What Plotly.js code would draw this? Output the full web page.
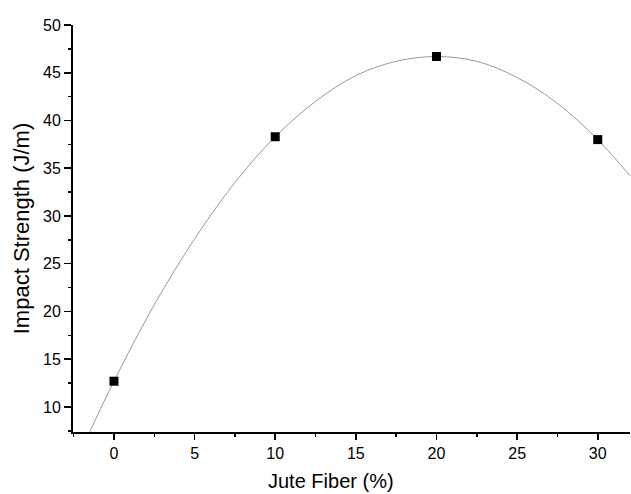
<!DOCTYPE html>
<html>
<head>
<meta charset="utf-8">
<script src="https://cdn.plot.ly/plotly-3.0.1.min.js"></script>
<style>html,body{margin:0;padding:0;background:#fff;}#chart{width:631px;height:494px;}</style>
</head>
<body>
<div id="chart"></div>
<script>
// Measured data points
const fiberPct = [0, 10, 20, 30];
const impactStrength = [12.7, 38.3, 46.7, 38.0];

// Fitted curve, values
const curveX = [-1.5, 0, 2.5, 5, 7.5, 10, 12.5, 15, 17.5, 20, 22.5, 25, 27.5, 30, 32];
const curveY = [7.4, 12.7, 20.7, 27.6, 33.5, 38.3, 42.0, 44.7, 46.2, 46.7, 46.2, 44.5, 41.8, 38.0, 34.2];

const xTitle = 'Jute Fiber (%)';
const yTitle = 'Impact Strength (J/m)';

const traces = [
  {
    x: curveX, y: curveY, type: 'scatter', mode: 'lines',
    line: {color: '#999999', width: 1, shape: 'spline', smoothing: 1},
    hoverinfo: 'skip', showlegend: false
  },
  {
    x: fiberPct, y: impactStrength, type: 'scatter', mode: 'markers',
    marker: {symbol: 'square', size: 9, color: '#000'},
    showlegend: false
  }
];

const fontFam = 'Liberation Sans, Arial, sans-serif';
const layout = {
  width: 631, height: 494,
  margin: {l: 73, r: 1, t: 25, b: 62},
  paper_bgcolor: '#fff', plot_bgcolor: '#fff',
  font: {family: fontFam, color: '#000'},
  showlegend: false,
  xaxis: {
    range: [-2.54, 32], tick0: 0, dtick: 5,
    showgrid: false, zeroline: false,
    showline: true, linecolor: '#000', linewidth: 2,
    ticks: 'outside', ticklen: 6, tickwidth: 1.5, tickcolor: '#000',
    minor: {dtick: 2.5, tick0: 0, ticks: 'outside', ticklen: 3, tickwidth: 1.5, tickcolor: '#000', showgrid: false},
    tickfont: {size: 16, family: fontFam}
  },
  yaxis: {
    range: [7.38, 50], tick0: 0, dtick: 5,
    showgrid: false, zeroline: false,
    showline: true, linecolor: '#000', linewidth: 2,
    ticks: 'outside', ticklen: 7, tickwidth: 1.5, tickcolor: '#000',
    minor: {dtick: 2.5, tick0: 0, ticks: 'outside', ticklen: 3, tickwidth: 1.5, tickcolor: '#000', showgrid: false},
    tickfont: {size: 16, family: fontFam}
  },
  annotations: [
    {text: xTitle, xref: 'paper', yref: 'paper', x: 0.463, y: -0.12,
     xanchor: 'center', yanchor: 'middle', showarrow: false,
     font: {size: 20, family: fontFam, color: '#000'}},
    {text: yTitle, xref: 'paper', yref: 'paper', x: -0.092, y: 0.5,
     xanchor: 'center', yanchor: 'middle', showarrow: false, textangle: -90,
     font: {size: 22, family: fontFam, color: '#000'}}
  ]
};

Plotly.newPlot('chart', traces, layout, {displayModeBar: false, staticPlot: true});
</script>
</body>
</html>
